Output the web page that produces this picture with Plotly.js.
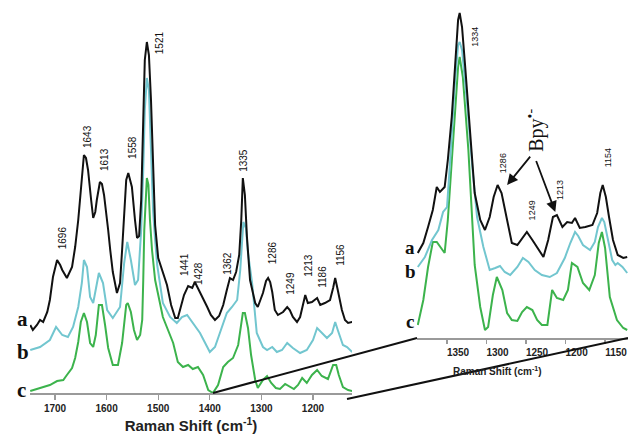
<!DOCTYPE html>
<html>
<head>
<meta charset="utf-8">
<script src="https://cdn.plot.ly/plotly-3.0.1.min.js"></script>
<style>html,body{margin:0;padding:0;background:#fff;}#chart{width:628px;height:434px;}</style>
</head>
<body>
<div id="chart"></div>
<script>
// ---------- Left panel (full range) ----------
const wnA_L = [1748,1743,1735,1729,1723,1715,1710,1704,1696,1690,1686,1677,1667,1661,1655,1652,1648,1644,1640,1636,1630,1626,1622,1619,1613,1609,1605,1601,1597,1593,1588,1580,1574,1570,1566,1562,1558,1555,1551,1545,1541,1537,1533,1529,1526,1522,1518,1514,1510,1506,1500,1493,1483,1475,1467,1462,1456,1450,1442,1434,1429,1421,1413,1405,1398,1390,1382,1374,1367,1361,1355,1349,1343,1339,1336,1332,1328,1322,1312,1307,1297,1291,1287,1283,1279,1274,1268,1258,1250,1245,1239,1231,1225,1219,1215,1210,1202,1192,1186,1177,1167,1161,1157,1152,1144,1138,1132,1124];
const intA_L = [68,63,68,73,71,81,93,116,133,128,123,115,126,146,173,190,218,238,235,223,193,175,181,193,211,209,198,183,163,143,121,100,110,143,173,213,220,215,206,173,155,157,193,273,333,351,338,293,233,168,135,123,108,88,75,75,88,98,107,105,111,103,95,86,78,73,77,88,103,115,113,121,138,173,215,198,156,113,90,86,100,112,115,111,101,83,78,81,86,83,76,71,76,90,98,90,91,95,88,90,93,105,115,103,83,73,70,71];

const wnB_L = [1748,1729,1710,1698,1686,1675,1665,1655,1648,1644,1638,1632,1626,1621,1615,1607,1599,1588,1574,1566,1560,1553,1545,1539,1533,1529,1526,1522,1518,1514,1510,1506,1502,1491,1477,1464,1454,1444,1433,1419,1405,1400,1390,1380,1367,1357,1347,1341,1338,1335,1330,1326,1318,1309,1297,1289,1279,1270,1260,1250,1239,1225,1212,1200,1192,1183,1173,1163,1157,1152,1142,1134,1124];
const intB_L = [43,46,53,66,58,56,66,86,110,133,126,96,90,103,120,110,83,75,86,130,151,133,108,113,163,223,283,315,303,243,183,153,128,90,76,70,76,78,70,60,46,41,46,60,80,86,93,123,153,171,165,140,110,60,46,43,46,41,43,50,45,40,43,53,65,60,55,60,71,63,48,46,41];

const wnC_L = [1748,1729,1710,1696,1684,1677,1667,1661,1655,1650,1644,1638,1632,1626,1621,1615,1609,1603,1597,1588,1578,1570,1562,1559,1553,1547,1541,1535,1531,1529,1527,1522,1519,1516,1512,1506,1498,1491,1481,1471,1462,1452,1442,1433,1423,1413,1403,1394,1384,1374,1365,1355,1345,1340,1336,1332,1326,1320,1312,1307,1297,1289,1281,1272,1264,1254,1245,1237,1229,1221,1212,1202,1192,1183,1171,1161,1155,1150,1142,1132,1124];
const intC_L = [2,5,8,12,13,18,25,35,51,71,80,71,50,46,58,88,88,68,45,28,28,50,88,90,81,63,53,58,73,113,163,215,208,173,143,113,93,76,63,50,31,26,28,24,26,18,3,0,8,26,31,35,48,68,80,80,65,38,13,5,13,17,10,5,4,9,6,4,8,15,10,18,23,17,14,28,28,18,6,3,2];

// ---------- Right panel (zoomed range) ----------
const wnA_R = [1387,1380,1374,1368,1363,1359,1353,1349,1344,1340,1336,1334,1331,1327,1321,1315,1308,1302,1296,1291,1286,1281,1274,1268,1261,1254,1249,1242,1236,1228,1222,1216,1211,1204,1198,1192,1188,1182,1175,1166,1160,1156,1153,1149,1145,1140,1134,1127,1122];
const intA_R = [85,95,111,128,151,146,151,178,221,271,318,325,311,271,205,145,118,108,121,141,153,145,118,95,93,101,106,98,91,81,98,121,123,111,116,115,120,110,111,113,125,145,153,141,121,98,83,80,81];

const wnB_R = [1387,1378,1369,1361,1355,1350,1346,1340,1336,1334,1331,1325,1318,1312,1304,1296,1289,1283,1277,1270,1261,1254,1247,1239,1230,1220,1211,1201,1194,1188,1184,1178,1169,1163,1159,1154,1151,1146,1141,1137,1134,1128,1122];
const intB_R = [71,81,98,108,126,131,178,255,293,296,288,238,171,121,91,68,70,72,66,63,71,80,76,68,63,61,65,80,95,106,102,93,88,96,111,120,116,95,78,73,75,71,65];

const wnC_R = [1387,1380,1374,1368,1363,1356,1353,1349,1342,1336,1334,1330,1323,1318,1315,1308,1302,1298,1292,1287,1280,1274,1268,1261,1255,1249,1242,1236,1230,1223,1217,1211,1203,1197,1192,1185,1178,1170,1163,1158,1154,1150,1144,1135,1127,1122];
const intC_R = [13,38,71,96,96,88,85,118,205,271,281,261,188,121,73,31,8,11,43,61,48,25,18,17,26,31,28,18,13,13,48,40,38,48,75,71,55,48,63,95,106,90,41,18,10,8];

// ---------- Text ----------
const tickValsL = [1700,1600,1500,1400,1300,1200];
const tickValsR = [1350,1300,1250,1200,1150];
const peakLabelsL = ['1696','1643','1613','1558','1521','1335','1441','1428','1362','1286','1249','1213','1186','1156'];
const peakPosL_x = [1686,1638,1605,1551,1498,1336,1450,1423,1367,1279,1245,1210,1183,1148];
const peakPosL_y = [155,256,233,246,350,233,128,120,130,140,110,128,116,138];
const peakLabelsR = ['1334','1286','1249','1213','1154'];
const peakPosR_x = [1315,1279,1242,1207,1146];
const peakPosR_y = [301,175,128,148,180];
const seriesNames = ['a','b','c'];
const axisTitle = 'Raman Shift (cm<sup>-1</sup>)';

const colA = '#111111', colB = '#72c6cf', colC = '#3cb34c';
const lw = 2;

function tr(x, y, color, xa, ya) {
  return {x: x, y: y, type: 'scatter', mode: 'lines', xaxis: xa, yaxis: ya,
          line: {color: color, width: lw}, hoverinfo: 'skip', showlegend: false};
}
// draw c, b, a so black is on top
const data = [
  tr(wnC_L, intC_L, colC, 'x', 'y'),
  tr(wnB_L, intB_L, colB, 'x', 'y'),
  tr(wnA_L, intA_L, colA, 'x', 'y'),
  tr(wnC_R, intC_R, colC, 'x2', 'y2'),
  tr(wnB_R, intB_R, colB, 'x2', 'y2'),
  tr(wnA_R, intA_R, colA, 'x2', 'y2')
];

const sans = 'Arial, "Liberation Sans", sans-serif';
const serif = '"Times New Roman", "Liberation Serif", serif';

const annotations = [];
peakLabelsL.forEach((t, i) => annotations.push({
  x: peakPosL_x[i], y: peakPosL_y[i], xref: 'x', yref: 'y', text: t, showarrow: false,
  textangle: -90, font: {family: sans, size: 10, color: '#111'}
}));
peakLabelsR.forEach((t, i) => annotations.push({
  x: peakPosR_x[i], y: peakPosR_y[i], xref: 'x2', yref: 'y2', text: t, showarrow: false,
  textangle: -90, font: {family: sans, size: 9, color: '#111'}
}));
// series letters
const letterL_y = [0.233, 0.157, 0.068];
const letterR_y = [0.430, 0.375, 0.230];
seriesNames.forEach((s, i) => {
  annotations.push({x: 0.024, y: letterL_y[i], xref: 'paper', yref: 'paper', text: '<b>' + s + '</b>',
    showarrow: false, font: {family: serif, size: 21, color: '#111'}});
  annotations.push({x: 0.653, y: letterR_y[i], xref: 'paper', yref: 'paper', text: '<b>' + s + '</b>',
    showarrow: false, font: {family: serif, size: 19, color: '#111'}});
});
// Bpy radical anion label and arrows
annotations.push({x: 1239, y: 208, xref: 'x2', yref: 'y2', text: 'Bpy<sup>•-</sup>', showarrow: false,
  textangle: -90, font: {family: serif, size: 20, color: '#111'}});
annotations.push({x: 1274, y: 153, xref: 'x2', yref: 'y2', ax: 1241, ay: 185, axref: 'x2', ayref: 'y2',
  text: ' ', showarrow: true, arrowhead: 2, arrowsize: 1.2, arrowwidth: 1.8, arrowcolor: '#111'});
annotations.push({x: 1213, y: 126, xref: 'x2', yref: 'y2', ax: 1241, ay: 185, axref: 'x2', ayref: 'y2',
  text: ' ', showarrow: true, arrowhead: 2, arrowsize: 1.2, arrowwidth: 1.8, arrowcolor: '#111'});
// right axis title
annotations.push({x: 543/628, y: 1 - 379/434, xref: 'paper', yref: 'paper', text: '<b>' + axisTitle + '</b>',
  showarrow: false, font: {family: sans, size: 10, color: '#222'}});

const layout = {
  width: 628, height: 434,
  margin: {l: 0, r: 0, t: 0, b: 0},
  paper_bgcolor: '#fff', plot_bgcolor: 'rgba(0,0,0,0)',
  showlegend: false,
  xaxis: {
    domain: [30/628, 352/628], range: [1748.5, 1124.4], anchor: 'y',
    showgrid: false, zeroline: false, showline: true, linecolor: '#9a9a9a', linewidth: 1.5,
    ticks: 'outside', ticklen: 5, tickwidth: 1.2, tickcolor: '#9a9a9a',
    tickvals: tickValsL, ticktext: tickValsL.map(String),
    tickfont: {family: sans, size: 10, color: '#222', weight: 'bold'},
    title: {text: '<b>' + axisTitle + '</b>', font: {family: sans, size: 15, color: '#222'}, standoff: 8}
  },
  yaxis: {domain: [41/434, 1], range: [0, 393], visible: false, anchor: 'x'},
  xaxis2: {
    domain: [417/628, 1], range: [1388, 1121], anchor: 'y2',
    showgrid: false, zeroline: false, showline: true, linecolor: '#9a9a9a', linewidth: 1.5,
    ticks: 'outside', ticklen: 4, tickwidth: 1.2, tickcolor: '#9a9a9a',
    tickvals: tickValsR, ticktext: tickValsR.map(String), ticklabelshift: -11,
    tickfont: {family: sans, size: 10, color: '#222', weight: 'bold'}
  },
  yaxis2: {domain: [96/434, 1], range: [0, 338], visible: false, anchor: 'x2'},
  shapes: [
    {type: 'line', xref: 'paper', yref: 'paper', x0: 213/628, y0: 1 - 393/434, x1: 417/628, y1: 1 - 338/434,
     line: {color: '#111', width: 2}},
    {type: 'line', xref: 'paper', yref: 'paper', x0: 347/628, y0: 1 - 399/434, x1: 628/628, y1: 1 - 338/434,
     line: {color: '#111', width: 2}}
  ],
  annotations: annotations
};

Plotly.newPlot('chart', data, layout, {displayModeBar: false, staticPlot: true});
</script>
</body>
</html>
